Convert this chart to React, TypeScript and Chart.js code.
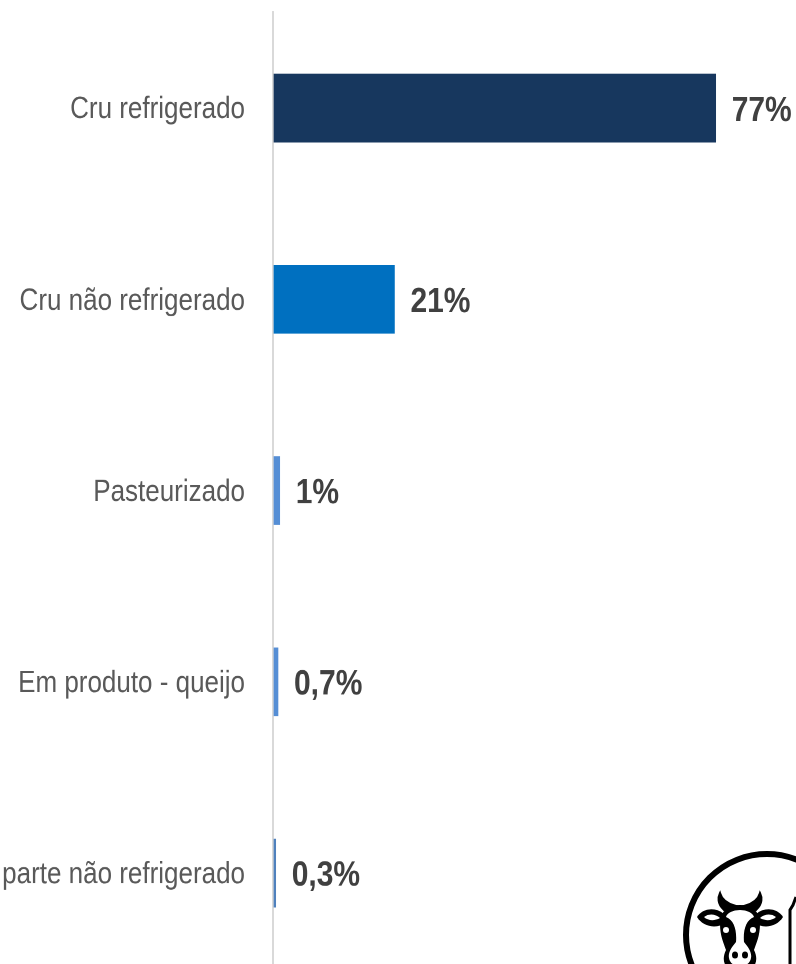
import React, { useEffect, useRef } from "react";
import { Chart, registerables } from "chart.js";

Chart.register(...registerables);

const categories = ["Cru refrigerado", "Cru não refrigerado", "Pasteurizado", "Em produto - queijo", "Em parte não refrigerado"];
const shares = [77, 21, 1, 0.7, 0.3];
const barColors = ["#17375E", "#0070C0", "#558ED5", "#558ED5", "#4F81BD"];

const STRETCH = 1.18;
const FONT = "'Liberation Sans', Arial, sans-serif";

const valueLabels = {
  id: "valueLabels",
  afterDatasetsDraw(chart: any) {
    const { ctx } = chart;
    const meta = chart.getDatasetMeta(0);
    ctx.save();
    ctx.font = `bold 30px ${FONT}`;
    ctx.fillStyle = "#404040";
    ctx.textAlign = "left";
    ctx.textBaseline = "middle";
    meta.data.forEach((bar: any, i: number) => {
      ctx.fillText(`${String(shares[i]).replace(".", ",")}%`, bar.x + 16, bar.y + 2.5);
    });
    ctx.restore();
  },
};

function CowBadge() {
  return (
    <svg width={796} height={964} style={{ position: "absolute", left: 0, top: 0, pointerEvents: "none" }}>
      <circle cx={767} cy={935} r={81} fill="#fff" stroke="#000" strokeWidth={6} />
      {/* horns */}
      <path d="M724 910 C717 904 718 897 720 893 C722 900 728 904 736 906 Z" fill="#000" stroke="#000" strokeWidth={2} />
      <path d="M756 910 C763 904 762 897 760 893 C758 900 752 904 744 906 Z" fill="#000" stroke="#000" strokeWidth={2} />
      {/* ears */}
      <path d="M724 914 C714 906 702 909 697 917 C703 927 716 929 726 923 Z" fill="#000" />
      <path d="M756 914 C766 906 778 909 783 917 C777 927 764 929 754 923 Z" fill="#000" />
      <path d="M704 917 C709 913 716 914 720 918 C715 921 708 921 704 917 Z" fill="#fff" />
      <path d="M776 917 C771 913 764 914 760 918 C765 921 772 921 776 917 Z" fill="#fff" />
      {/* head */}
      <path d="M740 905 C727 905 720 912 720 924 C720 936 724 944 726 950 C723 956 723 962 726 966 L754 966 C757 962 757 956 754 950 C756 944 760 936 760 924 C760 912 753 905 740 905 Z" fill="#000" />
      <path d="M740 910 C733 910 727 913 726 917 C734 920 737 930 736 942 C731 948 728 953 729 958 C730 964 735 966 740 966 C745 966 750 964 751 958 C752 953 749 948 744 942 C743 930 746 920 754 917 C753 913 747 910 740 910 Z" fill="#fff" />
      <circle cx={726} cy={930} r={3} fill="#fff" />
      <circle cx={753} cy={930} r={3} fill="#fff" />
      <ellipse cx={735} cy={955} rx={3} ry={3.5} fill="#000" />
      <ellipse cx={745} cy={955} rx={3} ry={3.5} fill="#000" />
      {/* bottle */}
      <path d="M796 897 L793 905 L790 910 L790 964" fill="none" stroke="#000" strokeWidth={3} />
    </svg>
  );
}

export default function App() {
  const canvasRef = useRef<HTMLCanvasElement>(null);

  useEffect(() => {
    const chart = new Chart(canvasRef.current!, {
      type: "bar",
      data: {
        labels: categories,
        datasets: [
          {
            data: shares,
            backgroundColor: barColors,
            barThickness: 68 / STRETCH,
            borderWidth: 0,
          },
        ],
      },
      plugins: [valueLabels],
      options: {
        indexAxis: "y",
        responsive: false,
        animation: false,
        devicePixelRatio: 2,
        layout: { padding: { top: 10.5, left: 0, right: 0, bottom: 0 } },
        plugins: { legend: { display: false }, tooltip: { enabled: false } },
        scales: {
          x: { display: false, min: -0.17, max: 91 },
          y: {
            afterFit(scale: any) {
              scale.width = 273;
              scale.paddingTop = 0;
              scale.paddingBottom = 0;
            },
            afterUpdate(scale: any) {
              const base = Object.getPrototypeOf(scale).drawLabels;
              scale.drawLabels = function (area: any) {
                this.ctx.save();
                this.ctx.translate(0, 1.5);
                base.call(this, area);
                this.ctx.restore();
              };
            },
            grid: { display: false, drawTicks: false },
            border: { display: true, color: "#D9D9D9", width: 2 },
            ticks: {
              color: "#595959",
              font: { family: FONT, size: 26 },
              padding: 28,
              autoSkip: false,
            },
          },
        },
      },
    } as any);
    return () => chart.destroy();
  }, []);

  return (
    <div style={{ position: "fixed", left: 0, top: 0, width: 796, height: 964, overflow: "hidden", background: "#fff" }}>
      <div style={{ transform: `scaleY(${STRETCH})`, transformOrigin: "0 0", width: 796, height: 969 / STRETCH }}>
        <canvas ref={canvasRef} width={796} height={969 / STRETCH} style={{ display: "block" }} />
      </div>
      <CowBadge />
    </div>
  );
}
